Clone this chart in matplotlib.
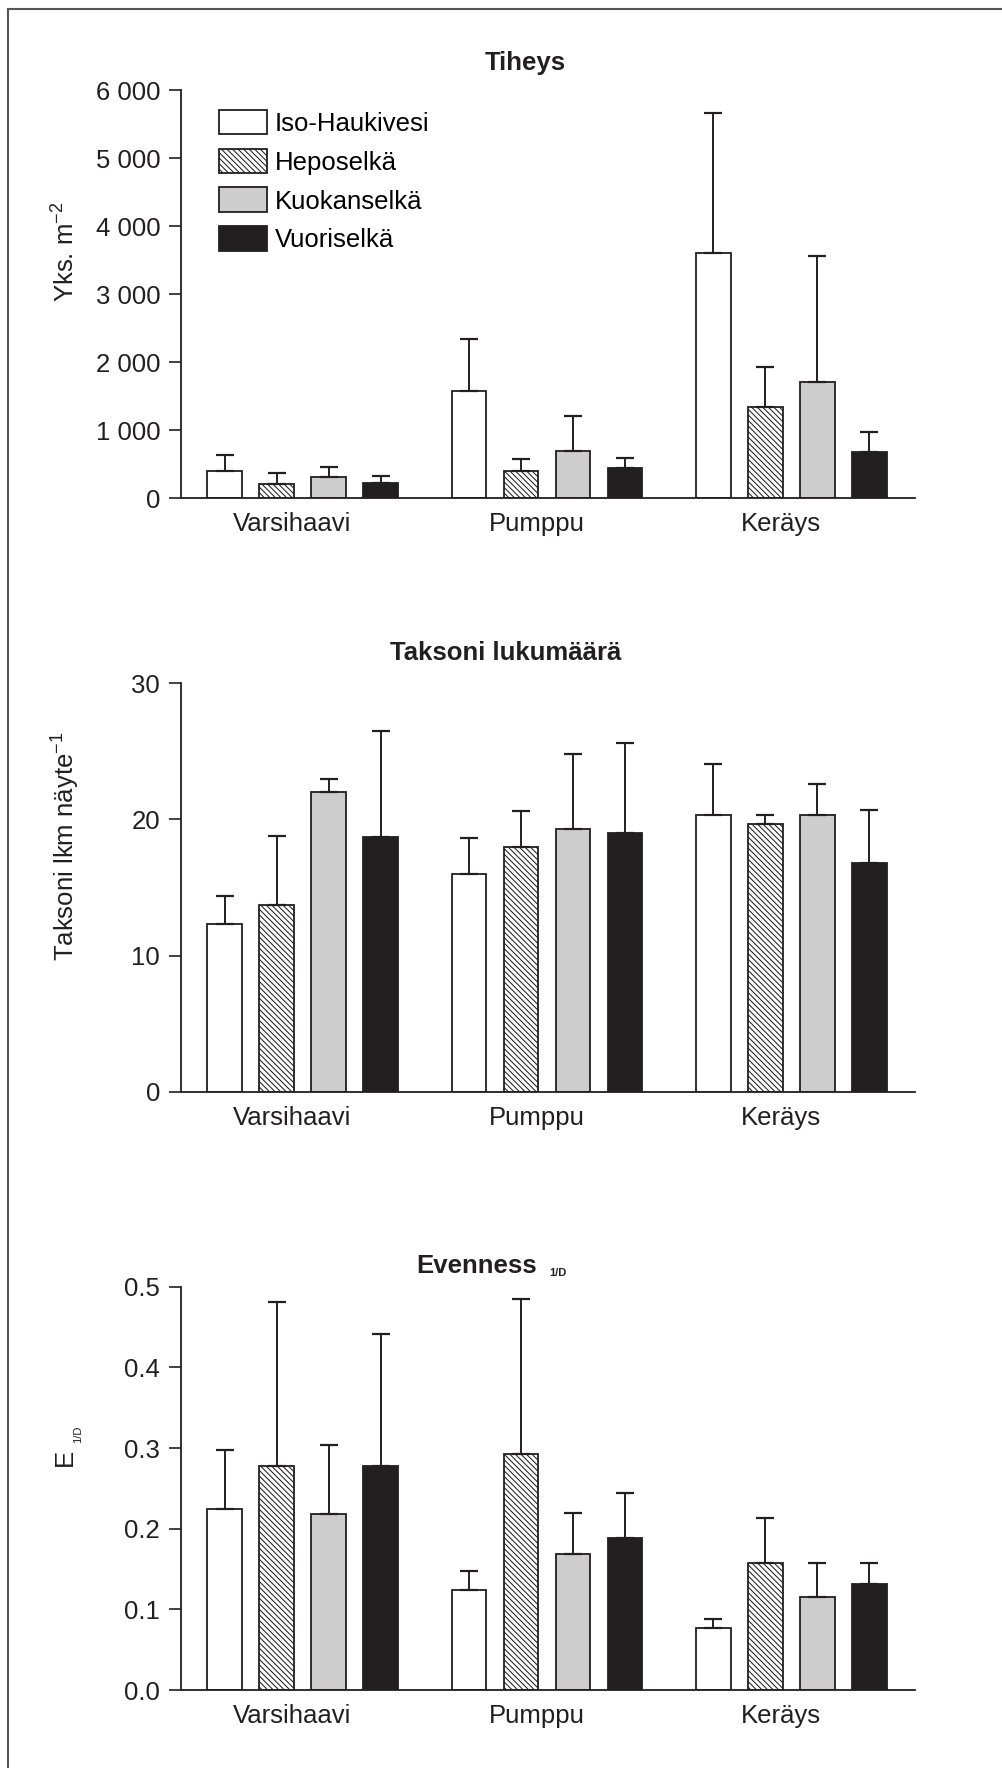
import numpy as np
import matplotlib
matplotlib.use("Agg")
import matplotlib.pyplot as plt
from matplotlib.lines import Line2D
from matplotlib.ticker import FuncFormatter

plt.rcParams['font.family'] = ['Liberation Sans', 'DejaVu Sans']
plt.rcParams['mathtext.fontset'] = 'custom'
plt.rcParams['mathtext.rm'] = 'Liberation Sans'
plt.rcParams['mathtext.it'] = 'Liberation Sans'
plt.rcParams['hatch.linewidth'] = 0.75
plt.rcParams['hatch.color'] = '#231f20'

methods = ['Varsihaavi', 'Pumppu', 'Keräys']
lakes = ['Iso-Haukivesi', 'Heposelkä', 'Kuokanselkä', 'Vuoriselkä']

# mean and upper sd per lake, one value per method
tiheys = {
    'Iso-Haukivesi': [405, 1580, 3600],
    'Heposelkä': [205, 405, 1335],
    'Kuokanselkä': [310, 700, 1715],
    'Vuoriselkä': [230, 440, 675],
}
tiheys_sd = {
    'Iso-Haukivesi': [230, 760, 2065],
    'Heposelkä': [170, 170, 595],
    'Kuokanselkä': [145, 510, 1845],
    'Vuoriselkä': [100, 145, 305],
}
taksoni = {
    'Iso-Haukivesi': [12.3, 16.0, 20.3],
    'Heposelkä': [13.7, 18.0, 19.7],
    'Kuokanselkä': [22.0, 19.3, 20.3],
    'Vuoriselkä': [18.7, 19.0, 16.8],
}
taksoni_sd = {
    'Iso-Haukivesi': [2.1, 2.6, 3.8],
    'Heposelkä': [5.1, 2.6, 0.6],
    'Kuokanselkä': [1.0, 5.5, 2.3],
    'Vuoriselkä': [7.8, 6.6, 3.9],
}
evenness = {
    'Iso-Haukivesi': [0.224, 0.124, 0.077],
    'Heposelkä': [0.278, 0.293, 0.157],
    'Kuokanselkä': [0.218, 0.169, 0.115],
    'Vuoriselkä': [0.278, 0.189, 0.132],
}
evenness_sd = {
    'Iso-Haukivesi': [0.073, 0.024, 0.011],
    'Heposelkä': [0.203, 0.192, 0.056],
    'Kuokanselkä': [0.086, 0.050, 0.042],
    'Vuoriselkä': [0.163, 0.055, 0.026],
}

ink = '#231f20'
fills = {'Iso-Haukivesi': 'white', 'Heposelkä': 'white',
         'Kuokanselkä': '#cdcdcd', 'Vuoriselkä': ink}
hatches = {'Iso-Haukivesi': None, 'Heposelkä': '\\' * 6,
           'Kuokanselkä': None, 'Vuoriselkä': None}

W, H = 1003, 1768
fig = plt.figure(figsize=(W / 100, H / 100), dpi=100)

group_step = 4.7
bar_w = 0.67
FS = 18.5


def fx(px):
    return px / W


def fy(py):
    return 1 - py / H


def draw_panel(top_px, bot_px, data, sd, ymax, ystep, fmt, legend=False):
    ax = fig.add_axes([fx(181), fy(bot_px), fx(915) - fx(181), (bot_px - top_px) / H])
    gx = np.arange(len(methods)) * group_step
    for i, lake in enumerate(lakes):
        x = gx + i
        ax.bar(x, data[lake], width=bar_w, color=fills[lake], edgecolor=ink,
               linewidth=1.3, hatch=hatches[lake], label=lake, zorder=2)
        ax.errorbar(x, data[lake], yerr=[np.zeros(len(methods)), sd[lake]], fmt='none',
                    ecolor=ink, elinewidth=1.4, capsize=6.5, capthick=1.6, zorder=3)
    ax.set_xlim(-0.84, 13.28)
    ax.set_ylim(0, ymax)
    ax.set_yticks(np.arange(0, ymax + ystep / 2, ystep))
    ax.yaxis.set_major_formatter(FuncFormatter(fmt))
    ax.set_xticks(gx + 1.5 - 0.2)
    ax.set_xticklabels(methods)
    ax.tick_params(axis='x', length=0, pad=10, labelsize=FS, colors=ink)
    ax.tick_params(axis='y', length=9, width=1.2, pad=6, labelsize=FS, colors=ink)
    for s in ['top', 'right']:
        ax.spines[s].set_visible(False)
    for s in ['left', 'bottom']:
        ax.spines[s].set_color(ink)
        ax.spines[s].set_linewidth(1.3)
    if legend:
        ax.legend(loc='upper left', bbox_to_anchor=(0.052, 0.952), borderaxespad=0,
                  frameon=False, fontsize=FS, handlelength=1.85, handleheight=1.1,
                  labelspacing=0.5, handletextpad=0.3, borderpad=0)
    return ax


def thousands(v, pos):
    return f'{int(v):,}'.replace(',', ' ')


draw_panel(90, 498.3, tiheys, tiheys_sd, 6000, 1000, thousands, legend=True)
draw_panel(683.3, 1091.7, taksoni, taksoni_sd, 30, 10, lambda v, p: f'{int(v)}')
draw_panel(1286.7, 1690, evenness, evenness_sd, 0.5, 0.1, lambda v, p: f'{v:.1f}')

# panel titles
fig.text(fx(525), fy(63), 'Tiheys', ha='center', va='center', fontsize=FS, fontweight='bold', color=ink)
fig.text(fx(506), fy(653), 'Taksoni lukumäärä', ha='center', va='center', fontsize=FS,
         fontweight='bold', color=ink)
fig.text(fx(416), fy(1273), 'Evenness', ha='left', va='baseline', fontsize=FS, fontweight='bold', color=ink)
fig.text(fx(549), fy(1276), '1/D', ha='left', va='baseline', fontsize=8, fontweight='bold', color=ink)

# y axis labels
fig.text(fx(66), fy(252), 'Yks. m$^{-2}$', ha='center', va='center', rotation=90, fontsize=FS, color=ink)
fig.text(fx(66), fy(846), 'Taksoni lkm näyte$^{-1}$', ha='center', va='center', rotation=90,
         fontsize=FS, color=ink)
fig.text(fx(65), fy(1457), 'E', ha='center', va='center', rotation=90, fontsize=FS, color=ink)
fig.text(fx(78), fy(1434), '1/D', ha='center', va='center', rotation=90, fontsize=8, color=ink)

# frame on the left and top edges
fig.add_artist(Line2D([fx(8.5), fx(8.5)], [0, fy(8.5)], color='#555555', lw=1.5))
fig.add_artist(Line2D([fx(8.5), 1], [fy(8.5), fy(8.5)], color='#555555', lw=1.5))

fig.savefig('out.png', dpi=100)
